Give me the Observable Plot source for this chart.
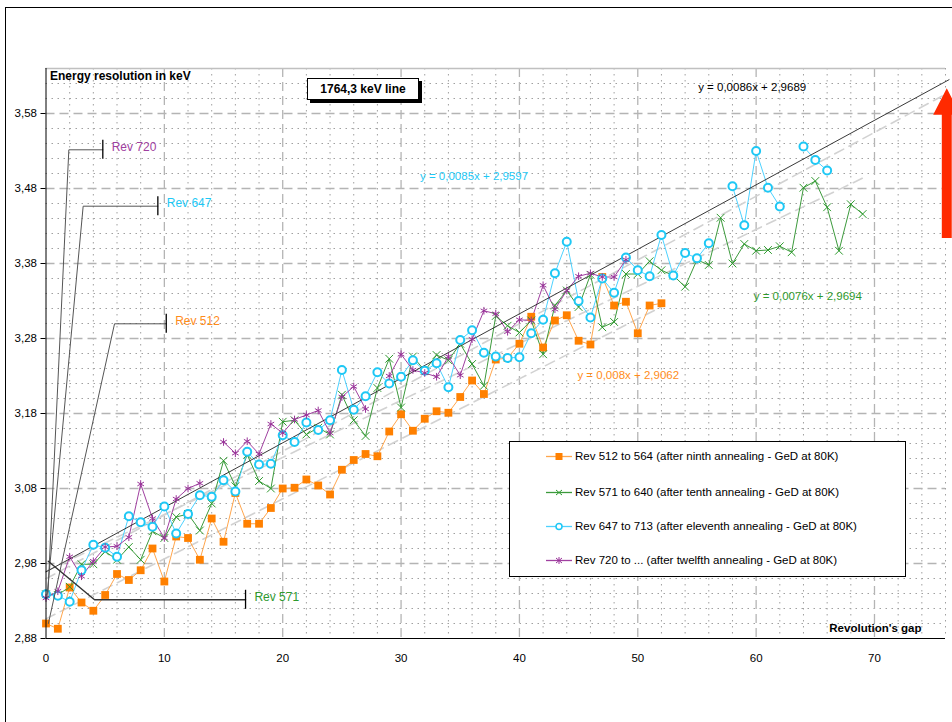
<!DOCTYPE html>
<html><head><meta charset="utf-8">
<script src="https://cdn.jsdelivr.net/npm/d3@7"></script>
<script src="https://cdn.jsdelivr.net/npm/@observablehq/plot@0.6"></script>
<style>
body{margin:0;background:#fff;font-family:"Liberation Sans",Arial,sans-serif;}
#wrap{position:relative;width:952px;height:722px;overflow:hidden;background:#fff;}
#frame{position:absolute;left:5px;top:7px;width:960px;height:730px;border:1px solid #000;}
#chart{position:absolute;left:0;top:0;}
#legend{position:absolute;left:509px;top:441px;width:395px;height:134px;border:1px solid #000;background:#fff;}
.lrow{position:absolute;left:36px;height:14px;font-size:11.5px;color:#000;white-space:nowrap;display:flex;align-items:center;}
.lrow svg{margin-right:3px;}
#tbox{position:absolute;left:307px;top:78px;width:110px;height:20px;border:1px solid #000;background:#fff;box-shadow:3px 3px 0 #000;font-weight:bold;font-size:12px;text-align:center;line-height:20px;}
</style></head><body>
<div id="wrap"><div id="frame"></div><div id="chart"></div><div id="legend"></div><div id="tbox">1764,3 keV line</div></div>
<script>
// ---- data (value per revolution gap, index = gap) ----
const orange = [2.900,2.893,2.948,2.928,2.917,2.938,2.966,2.958,2.971,3.000,2.956,3.016,3.014,2.985,3.040,3.009,3.074,3.033,3.033,3.054,3.080,3.081,3.092,3.084,3.072,3.105,3.118,3.126,3.123,3.156,3.179,3.157,3.173,3.183,3.181,3.202,3.224,3.206,3.252,3.254,3.273,3.309,3.268,3.304,3.311,3.277,3.272,3.362,3.324,3.329,3.287,3.324,3.327];
const green = [2.939,2.938,2.949,2.979,2.979,2.996,2.985,3.002,2.985,3.023,3.014,3.042,3.046,3.024,3.060,3.117,3.083,3.125,3.090,3.080,3.169,3.171,3.152,3.161,3.152,3.205,3.171,3.150,3.214,3.253,3.188,3.256,3.237,3.258,3.251,3.273,3.246,3.217,3.310,3.297,3.288,3.304,3.259,3.324,3.344,3.322,3.365,3.295,3.302,3.366,3.366,3.383,3.371,3.364,3.349,3.385,3.378,3.441,3.380,3.406,3.397,3.398,3.403,3.395,3.481,3.490,3.455,3.397,3.459,3.446];
const cyan = [2.939,2.937,2.929,2.971,3.005,3.001,2.989,3.043,3.035,3.029,3.056,3.020,3.046,3.071,3.069,3.091,3.076,3.129,3.112,3.113,3.151,3.142,3.168,3.158,3.171,3.238,3.185,3.203,3.235,3.220,3.229,3.251,3.237,3.247,3.215,3.278,3.291,3.261,3.256,3.254,3.255,3.287,3.305,3.367,3.409,3.330,3.308,3.360,3.341,3.388,3.371,3.363,3.418,3.364,3.394,3.387,3.407,null,3.483,3.431,3.530,3.481,3.456,null,3.536,3.518,3.504];
const purple = [2.934,2.943,2.989,2.963,2.983,3.002,3.003,3.015,3.086,3.040,3.014,3.066,3.080,3.087,null,3.142,3.127,3.143,3.126,3.166,3.154,3.172,3.178,3.184,3.154,3.202,3.216,3.186,null,3.230,3.259,3.238,3.234,3.229,3.256,3.231,3.279,3.317,3.313,3.289,3.305,3.304,3.351,3.319,3.344,3.363,3.367,3.362,3.362,3.385];

const seriesNames = ["Rev 512 to 564 (after ninth annealing - GeD at 80K)","Rev 571 to 640 (after tenth annealing - GeD at 80K)","Rev 647 to 713 (after eleventh annealing - GeD at 80K)","Rev 720 to ... (after twelfth annealing - GeD at 80K)"];
const lineColors = ["#ffa64d","#3c9a3c","#4dd2ff","#a040a0"];
const markColors = ["#ff8000","#2e9a2e","#1ec8f5","#993399"];
const symbols = ["square","times","circle","asterisk"];

const yTicks = [2.88,2.98,3.08,3.18,3.28,3.38,3.48,3.58];
const xTicks = [0,10,20,30,40,50,60,70];

// trend lines: slope, intercept, x-extent, style
const trendSlope = [0.0086, 0.0085, 0.0076, 0.008];
const trendIntercept = [2.9689, 2.9597, 2.9694, 2.9062];
const trendEnd = [76, 76, 69.4, 52];
const trendLabel = ["y = 0,0086x + 2,9689","y = 0,0085x + 2,9597","y = 0,0076x + 2,9694","y = 0,008x + 2,9062"];
const trendLabelColor = ["#000","#1ec8f5","#2e9a2e","#ff8c1a"];
const trendLabelX = [55.1, 31.6, 59.8, 44.9];
const trendLabelY = [3.6155, 3.4958, 3.3356, 3.2307];

// "Rev" callouts (data-space polylines)
const revText = ["Rev 720","Rev 647","Rev 512","Rev 571"];
const revColor = ["#a040a0","#1ec8f5","#ff8c1a","#2e9a2e"];
const revStart = [[0.15,2.935],[0.1,2.939],[0.2,2.900],[0.19,2.983]];
const revCorner = [[1.93,3.5316],[3.14,3.4564],[5.79,3.2996],[4.10,2.9316]];
const revEndX = [4.80, 9.45, 10.16, 16.86];
const revTickHalf = 0.0127;

const x0 = 0, x1 = 76, y0 = 2.88, y1 = 3.64;

const pts = arr => arr.map((v,i)=>({x:i,y:v}));
const data = [orange, green, cyan, purple].map(pts);

const fmt = d => d.toFixed(2).replace(".", ",");
const minorY = d3.range(0, 39).map(i => +(y0 + i*0.02).toFixed(3)).filter(v => Math.abs(((v - y0)/0.1) - Math.round((v - y0)/0.1)) > 1e-6);
const minorX = d3.range(0, 39).map(i => i*2).filter(v => v % 10 !== 0 && v <= 76);
const majorY = yTicks.filter(v => v > y0);
const majorX = xTicks.filter(v => v > 0);

const marks = [];
// grid
marks.push(Plot.ruleY(minorY, {stroke:"#a0a0a0", strokeDasharray:"1.5,4.5", strokeWidth:1}));
marks.push(Plot.ruleX(minorX, {stroke:"#a0a0a0", strokeDasharray:"1.5,4.5", strokeWidth:1}));
marks.push(Plot.ruleY(majorY, {stroke:"#b4b4b4", strokeDasharray:"9,5", strokeWidth:1.3}));
marks.push(Plot.ruleX(majorX, {stroke:"#b4b4b4", strokeDasharray:"9,5", strokeWidth:1.3}));
marks.push(Plot.ruleY([y1], {stroke:"#c0c0c0", strokeWidth:1.5}));
// trend lines (dashed grey for 3 series, black for the overall)
[1,2,3].forEach(k => {
  marks.push(Plot.line([{x:0,y:trendIntercept[k]},{x:trendEnd[k],y:trendIntercept[k]+trendSlope[k]*trendEnd[k]}],
    {x:"x", y:"y", stroke:"#d2d2d2", strokeWidth:1.6, strokeDasharray:"10,6"}));
});
// series
data.forEach((d,k) => {
  marks.push(Plot.line(d, {x:"x", y:"y", stroke:lineColors[k], strokeWidth:1}));
});
marks.push(Plot.line([{x:0,y:trendIntercept[0]},{x:trendEnd[0]+0.3,y:trendIntercept[0]+trendSlope[0]*(trendEnd[0]+0.3)}],
  {x:"x", y:"y", stroke:"#222", strokeWidth:0.9, clip:false}));
data.forEach((d,k) => {
  const s = symbols[k];
  if (s === "square") marks.push(Plot.dot(d, {x:"x", y:"y", symbol:"square", fill:markColors[k], r:4.4}));
  else if (s === "circle") marks.push(Plot.dot(d, {x:"x", y:"y", symbol:"circle", stroke:markColors[k], fill:"#fff", strokeWidth:2, r:4}));
  else marks.push(Plot.dot(d, {x:"x", y:"y", symbol:s, stroke:markColors[k], strokeWidth:1, r:3.6}));
});
// callouts
revText.forEach((t,k) => {
  marks.push(Plot.line([{x:revStart[k][0],y:revStart[k][1]},{x:revCorner[k][0],y:revCorner[k][1]},{x:revEndX[k],y:revCorner[k][1]}],
    {x:"x", y:"y", stroke:k===3?"#333":"#555", strokeWidth:k===3?1.4:1}));
  marks.push(Plot.ruleX([revEndX[k]], {y1:revCorner[k][1]-revTickHalf, y2:revCorner[k][1]+revTickHalf, stroke:"#000", strokeWidth:1.3}));
  marks.push(Plot.text([t], {x:revEndX[k]+0.75, y:revCorner[k][1]+0.004, text:d=>d, fill:revColor[k], textAnchor:"start", fontSize:12}));
});
// trend equations
trendLabel.forEach((t,k) => {
  marks.push(Plot.text([t], {x:trendLabelX[k], y:trendLabelY[k], text:d=>d, fill:trendLabelColor[k], textAnchor:"start", fontSize:11.5}));
});
// axes
marks.push(Plot.ruleX([x0], {stroke:"#000", strokeWidth:1}));
marks.push(Plot.ruleY([y0], {stroke:"#000", strokeWidth:1}));
marks.push(Plot.axisY(yTicks, {tickFormat: fmt, tickSize:5, tickPadding:4, fontSize:11.5, stroke:"#000", fill:"#000", label:null}));
marks.push(Plot.axisX(xTicks, {tickFormat: d=>String(d), tickSize:0, tickPadding:15, fontSize:11.5, fill:"#000", label:null}));
// axis titles
marks.push(Plot.text(["Energy resolution in keV"], {frameAnchor:"top-left", dx:4, dy:3, text:d=>d, fontWeight:"bold", fontSize:12, fill:"#000"}));
marks.push(Plot.text(["Revolution's gap"], {frameAnchor:"bottom-right", dx:-24, dy:-7, text:d=>d, fontWeight:"bold", fontSize:11.5, fill:"#000"}));

const plot = Plot.plot({
  width: 952, height: 722,
  marginLeft: 45.5, marginRight: 7, marginTop: 68, marginBottom: 84,
  x: {domain:[x0,x1], label:null}, y: {domain:[y0,y1], label:null},
  style: {fontFamily:"'Liberation Sans', Arial, sans-serif", background:"transparent", overflow:"visible"},
  marks
});
document.getElementById("chart").appendChild(plot);

// red arrow annotation at the right edge (built from the scales)
const sx = plot.scale("x"), sy = plot.scale("y");
const arrowX = 76.15, arrowHalfShaft = 0.42, arrowHalfHead = 1.15;
const aTop = 3.6130, aHeadBase = 3.5776, aBottom = 3.4133;
const X = v => sx.apply(v), Y = v => sy.apply(v);
const svg = d3.select(plot);
svg.append("path")
  .attr("d", `M${X(arrowX)},${Y(aTop)} L${X(arrowX+arrowHalfHead)},${Y(aHeadBase)} L${X(arrowX+arrowHalfShaft)},${Y(aHeadBase)} L${X(arrowX+arrowHalfShaft)},${Y(aBottom)} L${X(arrowX-arrowHalfShaft)},${Y(aBottom)} L${X(arrowX-arrowHalfShaft)},${Y(aHeadBase)} L${X(arrowX-arrowHalfHead)},${Y(aHeadBase)} Z`)
  .attr("fill", "#ff2a00");

// legend
const legend = document.getElementById("legend");
const rowTops = [7, 43, 77, 111];
seriesNames.forEach((name,k) => {
  const row = document.createElement("div");
  row.className = "lrow"; row.style.top = rowTops[k] + "px";
  let mk = "";
  if (symbols[k]==="square") mk = `<rect x="9.5" y="3" width="7" height="7" fill="${markColors[k]}"/>`;
  else if (symbols[k]==="times") mk = `<path d="M10,4L16,9M16,4L10,9" stroke="${markColors[k]}"/>`;
  else if (symbols[k]==="circle") mk = `<circle cx="13" cy="6.5" r="3" fill="#fff" stroke="${markColors[k]}" stroke-width="1.5"/>`;
  else mk = `<path d="M10,4L16,9M16,4L10,9M13,3L13,10" stroke="${markColors[k]}"/>`;
  row.innerHTML = `<svg width="26" height="13"><line x1="0" y1="6.5" x2="26" y2="6.5" stroke="${lineColors[k]}" stroke-width="1.3"/>${mk}</svg><span>${name}</span>`;
  legend.appendChild(row);
});
</script>
</body></html>
